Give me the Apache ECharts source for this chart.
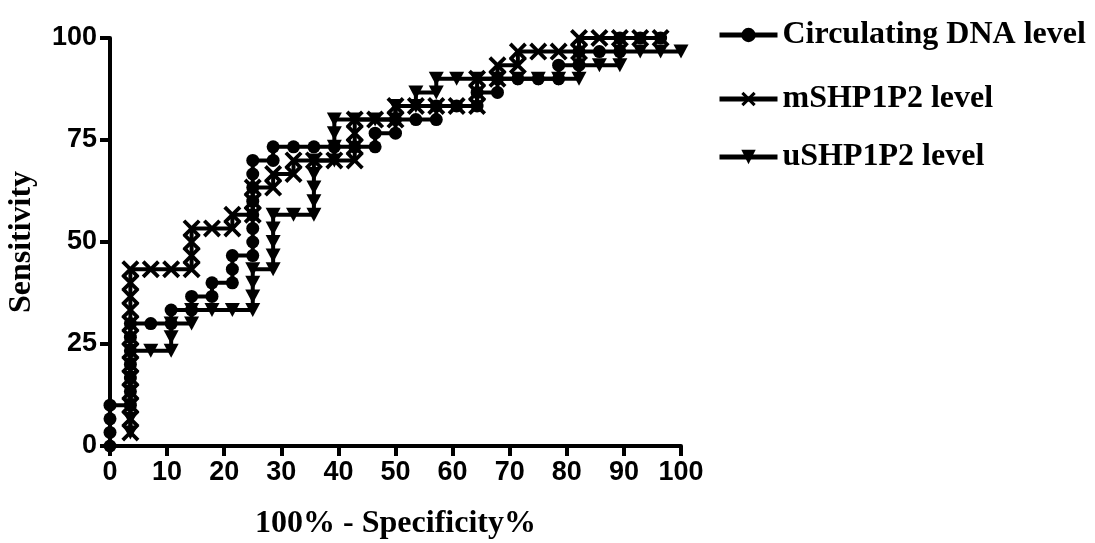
<!DOCTYPE html>
<html>
<head>
<meta charset="utf-8">
<script src="https://cdn.jsdelivr.net/npm/echarts@6/dist/echarts.min.js"></script>
<style>
html,body{margin:0;padding:0;background:#fff;}
#chart{width:1095px;height:543px;}
</style>
</head>
<body>
<div id="chart"></div>
<script>
// ---- Data ----
var seriesNames = ['Circulating DNA level', 'mSHP1P2 level', 'uSHP1P2 level'];
var xTicks = [0,10,20,30,40,50,60,70,80,90,100];
var yTicks = [0,25,50,75,100];

// Circulating DNA level: [100%-Specificity%, Sensitivity%]
var circDNA = [
 [0,0],[0,3.33],[0,6.67],[0,10],[3.57,10],[3.57,13.33],[3.57,16.67],[3.57,20],[3.57,23.33],[3.57,26.67],[3.57,30],
 [7.14,30],[10.71,30],[10.71,33.33],[14.29,33.33],[14.29,36.67],[17.86,36.67],[17.86,40],[21.43,40],[21.43,43.33],[21.43,46.67],
 [25,46.67],[25,50],[25,53.33],[25,56.67],[25,60],[25,63.33],[25,66.67],[25,70],[28.57,70],[28.57,73.33],[32.14,73.33],
 [35.71,73.33],[39.29,73.33],[42.86,73.33],[46.43,73.33],[46.43,76.67],[50,76.67],[50,80],[53.57,80],[57.14,80],[57.14,83.33],
 [60.71,83.33],[64.29,83.33],[64.29,86.67],[67.86,86.67],[67.86,90],[71.43,90],[75,90],[78.57,90],[78.57,93.33],[82.14,93.33],
 [82.14,96.67],[85.71,96.67],[89.29,96.67],[89.29,100],[92.86,100],[96.43,100]
];
// mSHP1P2 level
var mSHP = [
 [3.57,3.33],[3.57,6.67],[3.57,10],[3.57,13.33],[3.57,16.67],[3.57,20],[3.57,23.33],[3.57,26.67],[3.57,30],[3.57,33.33],[3.57,36.67],[3.57,40],[3.57,43.33],
 [7.14,43.33],[10.71,43.33],[14.29,43.33],[14.29,46.67],[14.29,50],[14.29,53.33],[17.86,53.33],[21.43,53.33],[21.43,56.67],[25,56.67],
 [25,60],[25,63.33],[28.57,63.33],[28.57,66.67],[32.14,66.67],[32.14,70],[35.71,70],[39.29,70],[42.86,70],[42.86,73.33],[42.86,76.67],
 [42.86,80],[46.43,80],[50,80],[50,83.33],[53.57,83.33],[57.14,83.33],[60.71,83.33],[64.29,83.33],[64.29,86.67],[64.29,90],[67.86,90],
 [67.86,93.33],[71.43,93.33],[71.43,96.67],[75,96.67],[78.57,96.67],[82.14,96.67],[82.14,100],[85.71,100],[89.29,100],[92.86,100],[96.43,100]
];
// uSHP1P2 level
var uSHP = [
 [3.57,3.33],[3.57,6.67],[3.57,10],[3.57,13.33],[3.57,16.67],[3.57,20],[3.57,23.33],[7.14,23.33],[10.71,23.33],[10.71,26.67],[10.71,30],
 [14.29,30],[14.29,33.33],[17.86,33.33],[21.43,33.33],[25,33.33],[25,36.67],[25,40],[25,43.33],[28.57,43.33],[28.57,46.67],[28.57,50],
 [28.57,53.33],[28.57,56.67],[32.14,56.67],[35.71,56.67],[35.71,60],[35.71,63.33],[35.71,66.67],[35.71,70],[39.29,70],[39.29,73.33],
 [39.29,76.67],[39.29,80],[42.86,80],[46.43,80],[50,80],[50,83.33],[53.57,83.33],[53.57,86.67],[57.14,86.67],[57.14,90],[60.71,90],
 [64.29,90],[67.86,90],[71.43,90],[75,90],[78.57,90],[82.14,90],[82.14,93.33],[85.71,93.33],[89.29,93.33],[89.29,96.67],[92.86,96.67],
 [96.43,96.67],[100,96.67]
];

var xSymbol = 'path://M0,1.5L1.5,0L5,3.5L8.5,0L10,1.5L6.5,5L10,8.5L8.5,10L5,6.5L1.5,10L0,8.5L3.5,5Z';
var triDown = 'path://M0,0L10,0L5,9Z';

// pick a condensed bold sans for tick labels if installed
function hasFont(name){
  var c = document.createElement('canvas').getContext('2d');
  c.font = 'bold 40px monospace';
  var w0 = c.measureText('0123456789').width;
  c.font = 'bold 40px "' + name + '", monospace';
  return c.measureText('0123456789').width !== w0;
}
var narrow = hasFont('Liberation Sans Narrow');
var tickFont = narrow
  ? {fontFamily:'"Liberation Sans Narrow"', fontWeight:'bold', fontSize:31, color:'#000'}
  : {fontFamily:'"Liberation Sans", Arial, sans-serif', fontWeight:'bold', fontSize:27, color:'#000'};
var titleFont = {fontFamily:'"Liberation Serif", "Times New Roman", serif', fontWeight:'bold', fontSize:32, color:'#000'};
var legendText = {fontFamily:'"Liberation Serif", "Times New Roman", serif', fontWeight:'bold', fontSize:32, color:'#000'};

function mkLegend(name, top){
  return {data:[name], left:712, top:top, itemWidth:58, itemHeight:18, itemGap:8,
          textStyle:legendText, selectedMode:false, lineStyle:{width:5, color:'#000'}};
}

var chart = echarts.init(document.getElementById('chart'), null, {renderer:'canvas'});
chart.setOption({
  animation:false,
  backgroundColor:'#fff',
  grid:{left:110, right:414, top:38, bottom:97, containLabel:false, outerBoundsMode:'none'},
  legend:[mkLegend(seriesNames[0], 14), mkLegend(seriesNames[1], 78), mkLegend(seriesNames[2], 136)],
  xAxis:{
    type:'value', min:0, max:100, interval:10,
    name:'100% - Specificity%', nameLocation:'middle', nameGap:62, nameTextStyle:titleFont,
    axisLine:{show:true, onZero:false, lineStyle:{color:'#000', width:4}},
    axisTick:{show:true, length:10, lineStyle:{color:'#000', width:4}},
    axisLabel:Object.assign({margin:13}, tickFont),
    splitLine:{show:false}
  },
  yAxis:{
    type:'value', min:0, max:100, interval:25,
    name:'Sensitivity', nameLocation:'middle', nameGap:72, nameTextStyle:titleFont,
    axisLine:{show:true, onZero:false, lineStyle:{color:'#000', width:4}},
    axisTick:{show:true, length:10, lineStyle:{color:'#000', width:4}},
    axisLabel:Object.assign({margin:13}, tickFont),
    splitLine:{show:false}
  },
  series:[
    {name:seriesNames[0], type:'line', data:circDNA, symbol:'circle', symbolSize:13,
     lineStyle:{color:'#000', width:4}, itemStyle:{color:'#000'}, z:3},
    {name:seriesNames[1], type:'line', data:mSHP, symbol:xSymbol, symbolSize:18,
     lineStyle:{color:'#000', width:4}, itemStyle:{color:'#000'}, z:2},
    {name:seriesNames[2], type:'line', data:uSHP, symbol:triDown, symbolSize:[15,14],
     lineStyle:{color:'#000', width:4}, itemStyle:{color:'#000'}, z:1}
  ]
});
</script>
</body>
</html>
